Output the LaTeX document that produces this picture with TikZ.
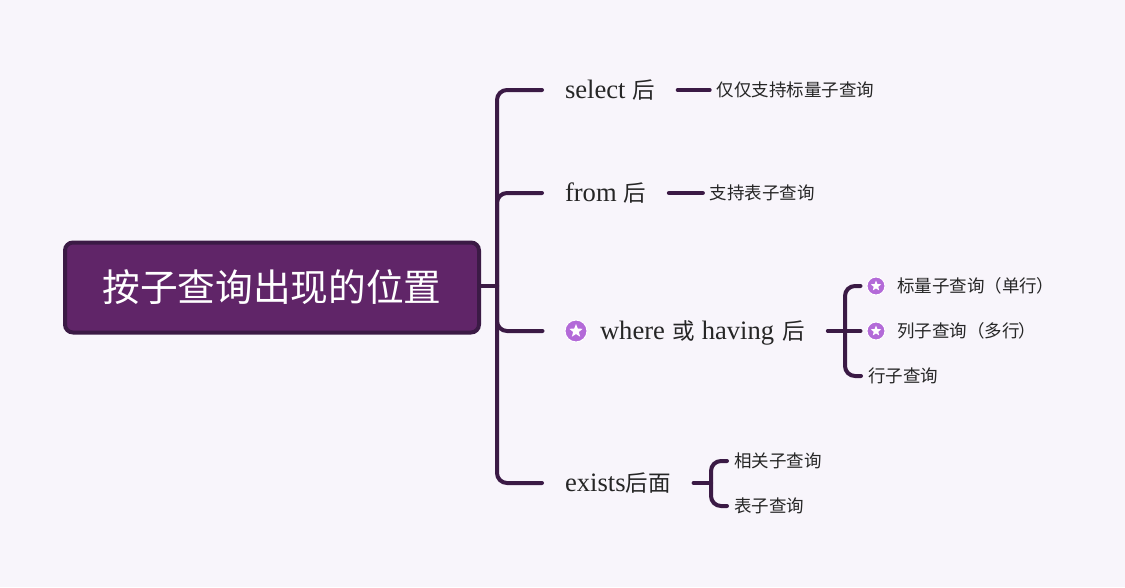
\documentclass[tikz,border=0pt]{standalone}
\usepackage{fontspec}
\setmainfont{Liberation Serif}
\newfontfamily\cjk{Noto Sans CJK SC}
\usetikzlibrary{positioning,shapes.geometric}
\definecolor{pagebg}{HTML}{F8F5FB}
\definecolor{rootfill}{HTML}{602568}
\definecolor{rootline}{HTML}{3B1A45}
\definecolor{badge}{HTML}{B36AD8}
\definecolor{inktext}{HTML}{262626}
\newcommand{\hanzi}[1]{{\fontsize{22.5}{28}\cjk #1}}

\begin{document}
\begin{tikzpicture}[
    x=1pt, y=-1pt,
    root/.style={rectangle, rounded corners=8pt, draw=rootline, line width=4pt, fill=rootfill, text=white, minimum width=414pt, minimum height=90pt, inner sep=0pt, font=\fontsize{37.7}{40}\cjk},
    topic/.style={anchor=west, text height=22pt, text depth=6pt, inner ysep=0pt, inner xsep=0pt, outer xsep=23pt, text=inktext, font=\fontsize{26.6}{28}\selectfont},
    leaf/.style={inner ysep=0pt, inner xsep=0pt, outer xsep=7pt, text=inktext, font=\fontsize{17.5}{20}\cjk},
    link/.style={draw=rootline, line width=4pt, line cap=round, rounded corners=10pt},
    badgemark/.style={circle, fill=badge, draw=white, line width=1pt, inner sep=0pt},
    starmark/.style={star, star points=5, star point ratio=2.3, fill=white, inner sep=0pt, minimum size=#1}
]
    \fill[pagebg] (0,0) rectangle (1125,587);
    \path[use as bounding box] (0,0) rectangle (1125,587);

    \node[root] (root01) at (272,287.5) {按子查询出现的位置};
    \coordinate (hub01) at (497,286);

    % first level
    \node[topic] (select01) at (542,90) {select \hanzi{后}};
    \node[topic] (from01) at (542,193) {from \hanzi{后}};
    \node[badgemark, minimum size=22pt] (mark01) at (576,331) {};
    \node[starmark=14pt] (star01) at (mark01) {};
    \node[topic] (where01) at (577,331) {where\kern1pt{} \hanzi{或} having\kern1.5pt{} \hanzi{后}};
    \node[topic] (exists01) at (542,483) {exists\hanzi{后面}};

    % second level
    \node[leaf, right=32pt of select01] (scalar01) {仅仅支持标量子查询};
    \node[leaf, right=34pt of from01] (table01) {支持表子查询};

    \coordinate (hub02) at (845,331);
    \node[badgemark, minimum size=18pt] (mark02) at (876,286) {};
    \node[starmark=11pt] (star02) at (mark02) {};
    \node[leaf, anchor=west] (scalar02) at (890,286) {标量子查询（单行\kern-1pt）};
    \node[badgemark, minimum size=18pt] (mark03) at (876,331) {};
    \node[starmark=11pt] (star03) at (mark03) {};
    \node[leaf, anchor=west] (column01) at (890,331) {列子查询（多行\kern-1pt）};
    \node[leaf, anchor=west] (row01) at (861,376) {行子查询};

    \coordinate (hub03) at (711,483);
    \node[leaf, anchor=west] (related01) at (727,461) {相关子查询};
    \node[leaf, anchor=west] (table02) at (727,506) {表子查询};

    \draw[link] (root01.east |- hub01) -- (hub01);
    \draw[link] (hub01) |- (select01.west);
    \draw[link] (hub01) |- (from01.west);
    \draw[link] (hub01) |- ([xshift=-22pt]mark01.west);
    \draw[link] (hub01) |- (exists01.west);

    \draw[link] (select01.east) -- (scalar01.west);
    \draw[link] (from01.east) -- (table01.west);

    \draw[link] (where01.east) -- (hub02);
    \draw[link] (hub02) |- ([xshift=-6pt]mark02.west);
    \draw[link] (hub02) -- ([xshift=-6pt]mark03.west);
    \draw[link] (hub02) |- (row01.west);

    \draw[link] (exists01.east) -- (hub03);
    \draw[link] (hub03) |- (related01.west);
    \draw[link] (hub03) |- (table02.west);
\end{tikzpicture}
\end{document}
